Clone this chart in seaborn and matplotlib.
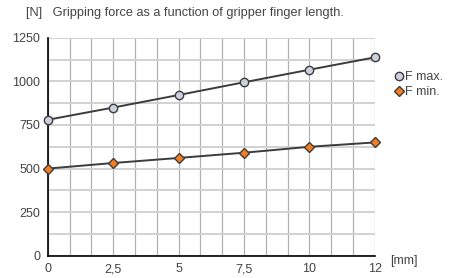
import numpy as np
import pandas as pd
import matplotlib
matplotlib.use("Agg")
import matplotlib.pyplot as plt
from matplotlib.ticker import MultipleLocator
from matplotlib.lines import Line2D
import seaborn as sns

# finger length categories (equally spaced on the chart)
lengths = ["0", "2,5", "5", "7,5", "10", "12"]
f_max = [780, 850, 922, 995, 1067, 1138]
f_min = [500, 532, 561, 591, 625, 650]
y_ticks = [0, 250, 500, 750, 1000, 1250]

df = pd.DataFrame({"length": lengths, "F max.": f_max, "F min.": f_min})

sns.set_style("white")
plt.rcParams["font.family"] = ["Liberation Sans", "DejaVu Sans"]

text_col = "#444444"
line_col = "#3c3c3c"
max_face = "#ccd1de"
min_face = "#f57d20"

fig = plt.figure(figsize=(4.56, 2.78), dpi=100)
ax = fig.add_axes([0.105, 0.080, 0.717, 0.784])

sns.pointplot(data=df, x="length", y="F max.", order=lengths, ax=ax,
              color=line_col, markers="o", errorbar=None,
              markersize=6, markerfacecolor=max_face, markeredgecolor=line_col,
              markeredgewidth=1.0, linewidth=1.4, zorder=5, clip_on=False)
sns.pointplot(data=df, x="length", y="F min.", order=lengths, ax=ax,
              color=line_col, markers="D", errorbar=None,
              markersize=5, markerfacecolor=min_face, markeredgecolor=line_col,
              markeredgewidth=1.0, linewidth=1.4, zorder=5, clip_on=False)

ax.set_xlim(0, len(lengths) - 1)
ax.set_ylim(0, 1250)
ax.set_yticks(y_ticks)
ax.set_xticks(range(len(lengths)))
ax.set_xticklabels(lengths)
ax.xaxis.set_minor_locator(MultipleLocator(1 / 3))
ax.yaxis.set_minor_locator(MultipleLocator(125))

ax.grid(True, which="both", axis="x", color="#b0b0b0", linewidth=0.9)
ax.grid(True, which="both", axis="y", color="#d2d2d2", linewidth=1.4)
ax.set_axisbelow(True)

for s in ["top", "right"]:
    ax.spines[s].set_visible(False)
for s in ["left", "bottom"]:
    ax.spines[s].set_color("black")
    ax.spines[s].set_linewidth(1.2)
    ax.spines[s].set_zorder(4)

ax.tick_params(axis="both", which="major", direction="out", length=4, width=1.0,
               color="black", labelsize=9, labelcolor=text_col, pad=1.5)
ax.tick_params(axis="both", which="minor", length=0)
ax.set_xlabel("")
ax.set_ylabel("")

fig.text(0.057, 0.953, "[N]   Gripping force as a function of gripper finger length.",
         fontsize=9.2, color=text_col, va="center", ha="left")
fig.text(0.855, 0.062, "[mm]", fontsize=9, color=text_col, va="center", ha="left")

handles = [
    Line2D([], [], linestyle="none", marker="o", markersize=6,
           markerfacecolor=max_face, markeredgecolor=line_col, markeredgewidth=1.0),
    Line2D([], [], linestyle="none", marker="D", markersize=5,
           markerfacecolor=min_face, markeredgecolor=line_col, markeredgewidth=1.0),
]
ax.legend(handles, ["F max.", "F min."], loc="upper left",
          bbox_to_anchor=(1.045, 0.87), frameon=False, fontsize=9,
          handlelength=0.7, handletextpad=0.15, labelspacing=0.25,
          borderaxespad=0, labelcolor=text_col)

fig.savefig("out.png", dpi=100)
